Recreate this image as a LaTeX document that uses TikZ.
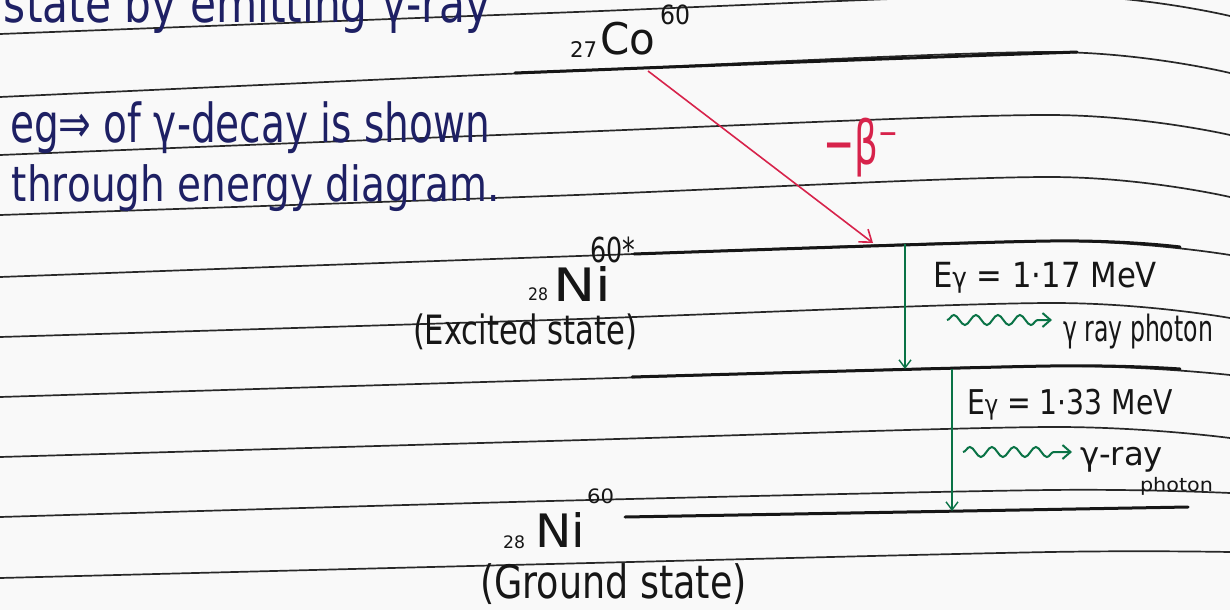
\documentclass[tikz,border=0pt]{standalone}
\usepackage{fontspec}
\setmainfont{DejaVu Sans}
\usepackage{graphicx}
\usetikzlibrary{arrows.meta,decorations.pathmorphing}
\definecolor{navy}{RGB}{30,32,100}
\definecolor{ink}{RGB}{22,22,22}
\definecolor{redink}{RGB}{215,35,75}
\definecolor{greenink}{RGB}{10,115,70}
\definecolor{rulecol}{RGB}{40,40,40}
\definecolor{paper}{RGB}{249,249,249}
\newcommand{\hw}[3]{\resizebox*{#1pt}{#2pt}{#3}}
\begin{document}
\begin{tikzpicture}[x=1pt,y=-1pt,
  txt/.style={inner sep=0pt,outer sep=0pt,anchor=north west},
  navytxt/.style={txt,text=navy},
  inktxt/.style={txt,text=ink},
  ruled/.style={draw=rulecol,line width=1.7pt},
  level/.style={draw=ink,line width=3pt,line cap=round},
  betaarrow/.style={draw=redink,line width=1.6pt,-{Straight Barb[length=11pt,width=16pt,line width=1.6pt]}},
  gammaarrow/.style={draw=greenink,line width=1.4pt,-{Straight Barb[length=8pt,width=12pt,line width=1.4pt]}},
  wavy/.style={draw=greenink,line width=2pt,decorate,
     decoration={snake,amplitude=5pt,segment length=22pt,post length=10pt},
     -{Straight Barb[length=8pt,width=14pt,line width=2pt]}}]
\useasboundingbox (0,0) rectangle (1230,610);
\fill[paper] (0,0) rectangle (1230,610);
% ruled lines of the notebook page
\draw[ruled] plot[smooth] coordinates {(0,34) (550,13) (1050,-5) (1230,16)};
\draw[ruled] plot[smooth] coordinates {(0,97) (550,72) (1050,52) (1230,73)};
\draw[ruled] plot[smooth] coordinates {(0,155) (550,133) (1050,115) (1230,135)};
\draw[ruled] plot[smooth] coordinates {(0,215) (550,196) (1050,177) (1230,197)};
\draw[ruled] plot[smooth] coordinates {(0,277) (550,257) (1050,241) (1230,255)};
\draw[ruled] plot[smooth] coordinates {(0,337) (550,320) (1050,303) (1230,318)};
\draw[ruled] plot[smooth] coordinates {(0,397) (550,380) (1050,366) (1230,375)};
\draw[ruled] plot[smooth] coordinates {(0,457) (550,441) (1050,427) (1230,438)};
\draw[ruled] plot[smooth] coordinates {(0,517) (550,501) (1050,490) (1230,493)};
\draw[ruled] plot[smooth] coordinates {(0,578) (550,564) (1050,552) (1230,552)};
% energy levels
\draw[level] plot[smooth] coordinates {(515,73) (800,62) (1077,52)};
\draw[level] plot[smooth] coordinates {(634,254) (1050,241) (1180,247)};
\draw[level] plot[smooth] coordinates {(632,377) (1050,366) (1180,369)};
\draw[level] (625,517) -- (1188,507);
% texts on the page
\node[navytxt] (t0) at (4,-18) {\hw{486}{51}{state by emitting γ-ray}};
\node[navytxt] (t1) at (10,102) {\hw{480}{52}{eg⇒ of γ-decay is shown}};
\node[navytxt] (t2) at (12,165) {\hw{488}{47}{through energy diagram.}};
% Co-60
\node[inktxt] (co) at (600,22) {\hw{55}{33}{Co}};
\node[inktxt] (coz) at (570,41) {\hw{27}{16}{27}};
\node[inktxt] (coa) at (660,5) {\hw{30}{20}{60}};
% Ni-60*
\node[inktxt] (nix) at (553,266) {\hw{58}{35}{Ni}};
\node[inktxt] (nixz) at (528,288) {\hw{20}{13}{28}};
\node[inktxt] (nixa) at (590,237) {\hw{45}{26}{60*}};
\node[inktxt] (exc) at (413,314) {\hw{224}{36}{(Excited state)}};
% Ni-60 ground
\node[inktxt] (nig) at (535,512) {\hw{50}{35}{Ni}};
\node[inktxt] (nigz) at (503,536) {\hw{22}{13}{28}};
\node[inktxt] (niga) at (587,489) {\hw{27}{15}{60}};
\node[inktxt] (gnd) at (480,564) {\hw{267}{41}{(Ground state)}};
% gamma labels
\node[inktxt] (e1) at (933,262) {\hw{224}{31}{E{\footnotesize γ} = 1·17 MeV}};
\node[inktxt] (p1) at (1063,314) {\hw{150}{35}{γ ray photon}};
\node[inktxt] (e2) at (967,389) {\hw{206}{31}{E{\footnotesize γ} = 1·33 MeV}};
\node[inktxt] (p2) at (1080,447) {\hw{83}{25}{γ-ray}};
\node[inktxt] (p3) at (1140,477) {\hw{73}{18}{photon}};
\node[txt,text=redink] (beta) at (823,118) {\hw{75}{59}{−β⁻}};
% transitions
\coordinate (betaStart) at (648,71);
\coordinate (betaEnd) at (873,243);
\draw[betaarrow] (betaStart) -- (betaEnd);
\coordinate (gOneS) at (905,244);
\coordinate (gOneE) at (905,369);
\draw[gammaarrow] (gOneS) -- (gOneE);
\coordinate (gTwoS) at (952,369);
\coordinate (gTwoE) at (952,511);
\draw[gammaarrow] (gTwoS) -- (gTwoE);
\coordinate (wOneS) at (947,320);
\coordinate (wOneE) at (1052,320);
\draw[wavy] (wOneS) -- (wOneE);
\coordinate (wTwoS) at (963,452);
\coordinate (wTwoE) at (1072,452);
\draw[wavy] (wTwoS) -- (wTwoE);
\end{tikzpicture}
\end{document}
